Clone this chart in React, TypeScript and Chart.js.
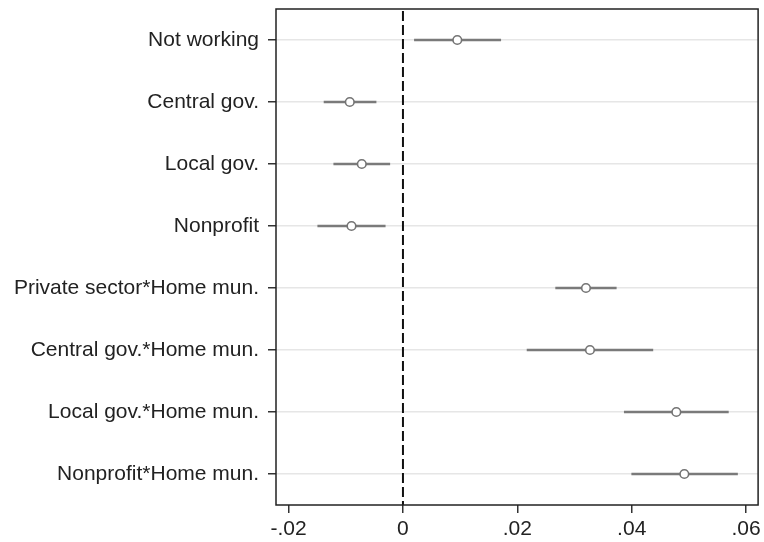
import React, { useEffect, useRef } from 'react';
import { Chart, registerables } from 'chart.js';

Chart.register(...registerables);

const categories = [
  'Not working',
  'Central gov.',
  'Local gov.',
  'Nonprofit',
  'Private sector*Home mun.',
  'Central gov.*Home mun.',
  'Local gov.*Home mun.',
  'Nonprofit*Home mun.',
];
const estimates = [0.0095, -0.0093, -0.0072, -0.009, 0.032, 0.0327, 0.0478, 0.0492];
const ciLower = [0.002, -0.0138, -0.0121, -0.0149, 0.0267, 0.0217, 0.0387, 0.04];
const ciUpper = [0.0171, -0.0047, -0.0023, -0.0031, 0.0373, 0.0437, 0.0569, 0.0585];
const xTickValues = [-0.02, 0, 0.02, 0.04, 0.06];
const xTickLabels = ['-.02', '0', '.02', '.04', '.06'];
const xMin = -0.0222;
const xMax = 0.0621;
const refLineValue = 0;

const FONT = 'Liberation Sans, Arial, Helvetica, sans-serif';

const framePlugin = {
  id: 'frameAndRef',
  beforeDatasetsDraw(chart: any) {
    const { ctx, chartArea, scales } = chart;
    const x = scales.x.getPixelForValue(refLineValue);
    ctx.save();
    ctx.strokeStyle = '#111';
    ctx.lineWidth = 2;
    ctx.setLineDash([10, 4]);
    ctx.beginPath();
    ctx.moveTo(x, chartArea.top + 2);
    ctx.lineTo(x, chartArea.bottom);
    ctx.stroke();
    ctx.restore();
  },
  afterDraw(chart: any) {
    const { ctx, chartArea } = chart;
    ctx.save();
    ctx.strokeStyle = '#222';
    ctx.lineWidth = 1.5;
    ctx.strokeRect(chartArea.left, chartArea.top, chartArea.right - chartArea.left, chartArea.bottom - chartArea.top);
    ctx.restore();
  },
};

export default function App() {
  const ref = useRef<HTMLCanvasElement | null>(null);
  useEffect(() => {
    if (!ref.current) return;
    const chart = new Chart(ref.current, {
      type: 'bar',
      data: {
        labels: categories,
        datasets: [
          {
            type: 'line',
            indexAxis: 'y',
            data: estimates,
            showLine: false,
            pointRadius: 4.3,
            pointBorderWidth: 1.6,
            pointBorderColor: '#747474',
            pointBackgroundColor: '#ffffff',
            order: 0,
          } as any,
          {
            type: 'bar',
            indexAxis: 'y',
            data: categories.map((_, i) => [ciLower[i], ciUpper[i]]),
            backgroundColor: '#7a7a7a',
            borderWidth: 0,
            barThickness: 2,
            grouped: false,
            order: 1,
          } as any,
        ],
      },
      options: {
        indexAxis: 'y',
        animation: false,
        responsive: false,
        maintainAspectRatio: false,
        layout: { padding: { top: 9, right: 4, left: 0, bottom: 0 } },
        plugins: { legend: { display: false }, tooltip: { enabled: false } },
        scales: {
          y: {
            type: 'category',
            labels: categories,
            offset: true,
            grid: {
              offset: false,
              color: '#e6e6e6',
              lineWidth: 1.5,
              tickColor: '#333',
              tickLength: 8,
              drawOnChartArea: true,
            },
            border: { display: false },
            ticks: { color: '#222', font: { family: FONT, size: 21 }, padding: 9, autoSkip: false },
            afterFit: (s: any) => {
              s.width = 276;
              s.paddingTop = 0;
              s.paddingBottom = 0;
            },
          },
          x: {
            type: 'linear',
            min: xMin,
            max: xMax,
            afterBuildTicks: (s: any) => {
              s.ticks = xTickValues.map((v) => ({ value: v }));
            },
            grid: { drawOnChartArea: false, tickLength: 8, tickColor: '#333', lineWidth: 1.5 },
            border: { display: false },
            ticks: {
              color: '#222',
              font: { family: FONT, size: 21 },
              padding: 4,
              autoSkip: false,
              maxRotation: 0,
              callback: (v: any) => {
                const i = xTickValues.findIndex((t) => Math.abs(t - Number(v)) < 1e-9);
                return i >= 0 ? xTickLabels[i] : '';
              },
            },
            afterFit: (s: any) => {
              s.height = 37;
              s.paddingLeft = 0;
              s.paddingRight = 0;
            },
          },
        },
      } as any,
      plugins: [framePlugin],
    });
    return () => chart.destroy();
  }, []);
  return (
    <div style={{ position: 'absolute', left: 0, top: 0, width: 764, height: 542, background: '#fff' }}>
      <canvas ref={ref} width={764} height={542} style={{ width: 764, height: 542 }} />
    </div>
  );
}
